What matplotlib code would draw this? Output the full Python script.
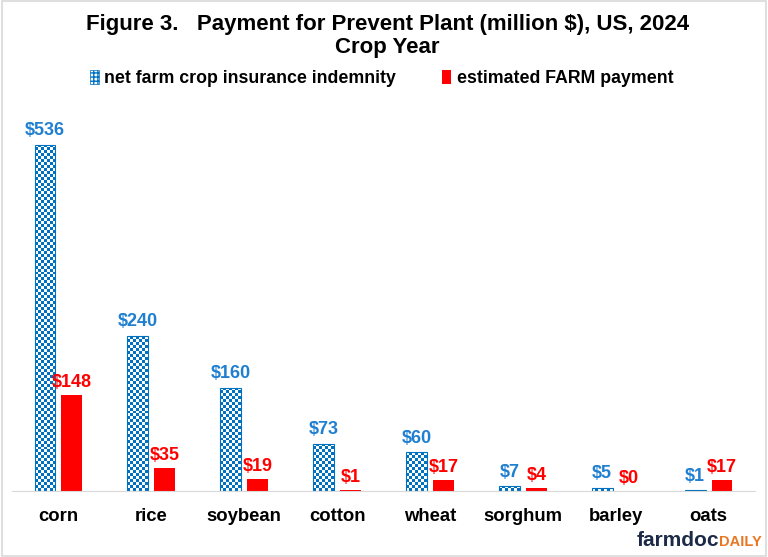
import numpy as np
import matplotlib.pyplot as plt
from matplotlib.colors import ListedColormap
from matplotlib.patches import Patch, Rectangle

plt.rcParams['font.family'] = ['Liberation Sans', 'DejaVu Sans']
plt.rcParams['font.weight'] = 'bold'

# dados
culturas = ["corn", "rice", "soybean", "cotton", "wheat", "sorghum", "barley", "oats"]
indenizacao = [536, 240, 160, 73, 60, 7, 5, 1]
farm = [148, 35, 19, 1, 17, 4, 0, 17]

azul = "#0070C0"
azul_txt = "#1F7FD0"
vermelho = "#FF0000"

fig = plt.figure(figsize=(7.68, 5.57), dpi=100)
ax = fig.add_axes([12 / 768, 1 - 491 / 557, 743 / 768, 390 / 557])

x = np.arange(len(culturas))
largura = 0.225
desloc = 0.145

barras_azuis = ax.bar(x - desloc, indenizacao, largura, facecolor="none",
                      edgecolor=azul, linewidth=0.8, zorder=2)
barras_verm = ax.bar(x + desloc, farm, largura, color=vermelho, zorder=2)

# padrão xadrez nas barras azuis
cel = 4.6
cmap_xadrez = ListedColormap(["white", azul])
for b in barras_azuis:
    h = b.get_height()
    if h <= 0:
        continue
    ny = max(1, int(round(h / cel)))
    nx = 7
    xadrez = (np.indices((ny, nx)).sum(axis=0) % 2).astype(float)
    im = ax.imshow(xadrez, extent=(b.get_x(), b.get_x() + b.get_width(), 0, h),
                   cmap=cmap_xadrez, vmin=0, vmax=1, interpolation="nearest",
                   aspect="auto", zorder=1.5)
    im.set_clip_path(b)

for b, v in zip(barras_azuis, indenizacao):
    ax.annotate(f"${v}", (b.get_x() + b.get_width() / 2, v), xytext=(0, 4),
                textcoords="offset points", ha="center", va="bottom",
                color=azul_txt, fontsize=13, fontweight="bold")
for b, v in zip(barras_verm, farm):
    ax.annotate(f"${v}", (b.get_x() + b.get_width() / 2, v), xytext=(0, 3),
                textcoords="offset points", ha="center", va="bottom",
                color=vermelho, fontsize=13, fontweight="bold")

ax.set_xlim(-0.5, 7.5)
ax.set_ylim(0, 604)
ax.set_xticks(x)
ax.set_xticklabels(culturas, fontsize=13.3, fontweight="bold")
ax.tick_params(axis="x", length=0, pad=12)
ax.set_yticks([])
for lado in ["top", "left", "right"]:
    ax.spines[lado].set_visible(False)
ax.spines["bottom"].set_color("#D9D9D9")

fig.text(0.504, 0.956, "Figure 3.   Payment for Prevent Plant (million $), US, 2024",
         ha="center", va="center", fontsize=16, fontweight="bold")
fig.text(0.504, 0.914, "Crop Year", ha="center", va="center",
         fontsize=16, fontweight="bold")

handles = [Patch(facecolor="white", edgecolor=azul, hatch="++++", linewidth=0.5),
           Patch(facecolor=vermelho)]
fig.legend(handles, ["net farm crop insurance indemnity", "estimated FARM payment"],
           loc="center", bbox_to_anchor=(0.497, 0.859), ncol=2, frameon=False,
           fontsize=12.8, handlelength=0.5, handleheight=0.8, handletextpad=0.3,
           columnspacing=2.6)

fig.text(0.936, 0.012, "farmdoc", ha="right", va="bottom", fontsize=15,
         fontweight="bold", color="#1C2A48")
fig.text(0.936, 0.014, "DAILY", ha="left", va="bottom", fontsize=10.5,
         fontweight="bold", color="#E87722")

fig.add_artist(Rectangle((0.002, 0.002), 0.996, 0.996, transform=fig.transFigure,
                         fill=False, edgecolor="#D9D9D9", linewidth=1.2))

fig.savefig("out.png", dpi=100)
